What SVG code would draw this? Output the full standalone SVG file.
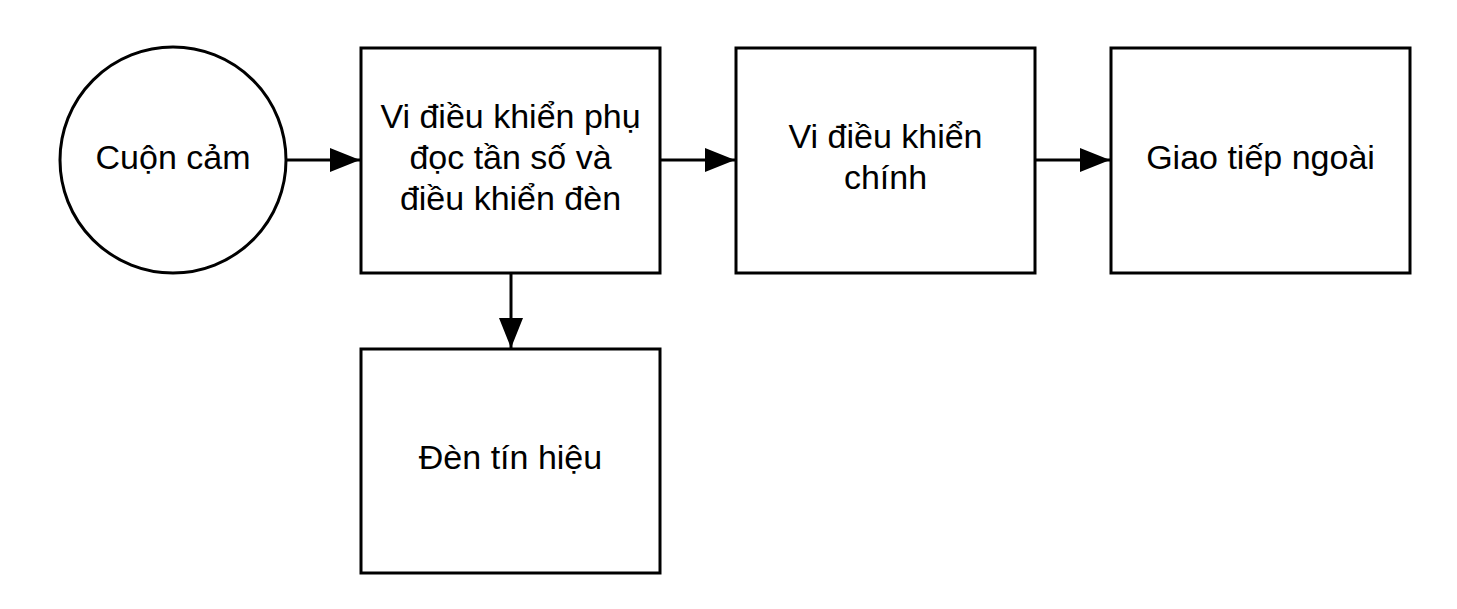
<svg xmlns="http://www.w3.org/2000/svg" width="1457" height="609" viewBox="0 0 1457 609">
<style>
.n{fill:#fff;stroke:#000;stroke-width:3}
.t{font-family:"Liberation Sans",Arial,sans-serif;font-size:34px;fill:#000;text-anchor:middle}
.c{stroke:#000;stroke-width:3;fill:none}
</style>
<defs>
<marker id="ah" markerUnits="userSpaceOnUse" markerWidth="32" markerHeight="24" refX="30" refY="12" orient="auto">
<path d="M0,0 L30,12 L0,24 Z" fill="#000"/>
</marker>
</defs>
<rect width="1457" height="609" fill="#fff"/>
<g id="connectors">
<line class="c" x1="286" y1="160" x2="360" y2="160" marker-end="url(#ah)"/>
<line class="c" x1="660" y1="160" x2="735" y2="160" marker-end="url(#ah)"/>
<line class="c" x1="1035" y1="160" x2="1110" y2="160" marker-end="url(#ah)"/>
<line class="c" x1="511" y1="273" x2="511" y2="348" marker-end="url(#ah)"/>
</g>
<g id="cuon-cam">
<circle class="n" cx="173" cy="160" r="113"/>
<text class="t" x="173" y="169">Cuộn cảm</text>
</g>
<g id="vi-dieu-khien-phu">
<rect class="n" x="361" y="48" width="299" height="225"/>
<text class="t" x="510.5" y="128">Vi điều khiển phụ</text>
<text class="t" x="510.5" y="169">đọc tần số và</text>
<text class="t" x="510.5" y="210">điều khiển đèn</text>
</g>
<g id="vi-dieu-khien-chinh">
<rect class="n" x="736" y="48" width="299" height="225"/>
<text class="t" x="885.5" y="148">Vi điều khiển</text>
<text class="t" x="885.5" y="189">chính</text>
</g>
<g id="giao-tiep-ngoai">
<rect class="n" x="1111" y="48" width="299" height="225"/>
<text class="t" x="1260.5" y="169">Giao tiếp ngoài</text>
</g>
<g id="den-tin-hieu">
<rect class="n" x="361" y="349" width="299" height="224"/>
<text class="t" x="510.5" y="469">Đèn tín hiệu</text>
</g>
</svg>
